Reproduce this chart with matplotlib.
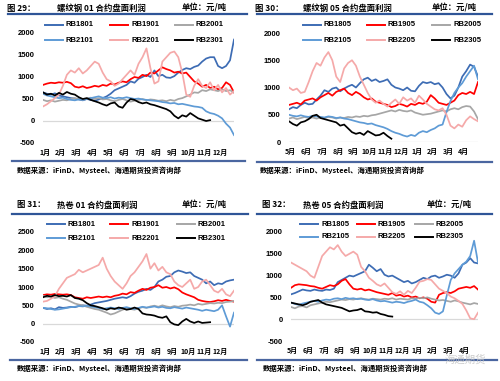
import numpy as np
import matplotlib
matplotlib.use('Agg')
from matplotlib import pyplot as plt
from matplotlib.lines import Line2D

plt.rcParams['font.family'] = ['Noto Sans CJK SC', 'DejaVu Sans']

W, H = 500, 381
step = 0.25  # roughly weekly samples, x is months since start of the chart

months_jan = ['1月', '2月', '3月', '4月', '5月', '6月', '7月', '8月', '9月', '10月', '11月', '12月']
months_may = ['5月', '6月', '7月', '8月', '9月', '10月', '11月', '12月', '1月', '2月', '3月', '4月']

names_01 = ['RB1801', 'RB1901', 'RB2001', 'RB2101', 'RB2201', 'RB2301']
names_05 = ['RB1805', 'RB1905', 'RB2005', 'RB2105', 'RB2205', 'RB2305']
colors = ['#3D6CB4', '#FF0000', '#A6A6A6', '#5E9BD6', '#F5A9A9', '#000000']

# fig 29: rebar 01 contract
f29_rb1801 = [650, 620, 600, 630, 580, 560, 540, 520, 510, 490, 470, 500, 480, 460, 490, 520, 560,
              620, 700, 740, 780, 820, 900, 870, 960, 1000, 1050, 1000, 1150, 1020, 1050, 990, 980,
              1020, 1100, 1160, 1200, 1180, 1230, 1260, 1350, 1420, 1450, 1450, 1250, 1200, 1250,
              1380, 1850]
f29_rb1901 = [820, 850, 870, 860, 880, 870, 890, 860, 780, 760, 790, 750, 770, 800, 780, 820, 800,
              850, 830, 870, 900, 880, 950, 1000, 980, 1050, 1020, 1100, 1080, 1150, 1220, 1180,
              1150, 1100, 1120, 1080, 1100, 1000, 900, 850, 780, 820, 750, 780, 720, 750, 880, 820,
              650]
f29_rb2001 = [480, 450, 470, 440, 460, 480, 470, 500, 520, 500, 480, 510, 530, 500, 520, 490, 500,
              470, 450, 480, 500, 470, 440, 460, 480, 500, 470, 490, 480, 460, 470, 450, 480, 460,
              500, 520, 560, 600, 650, 640, 700, 680, 720, 700, 680, 720, 680, 700, 650]
f29_rb2101 = [620, 580, 560, 540, 520, 530, 500, 480, 470, 490, 480, 500, 520, 540, 560, 530, 520,
              540, 510, 530, 520, 540, 520, 500, 510, 490, 480, 470, 460, 450, 430, 420, 400, 410,
              380, 390, 370, 350, 330, 320, 300, 220, 180, 160, 120, 60, -60, -150, -320]
f29_rb2201 = [330, 380, 450, 520, 600, 800, 1050, 1150, 1100, 1200, 1080, 1150, 1250, 1350, 1300,
              1100, 950, 900, 800, 850, 950, 1050, 1150, 1050, 1300, 1450, 1650, 1200, 850, 900,
              1350, 1450, 1550, 1580, 1450, 1100, 600, 550, 800, 950, 800, 750, 880, 700, 820, 650,
              750, 600, 680]
f29_rb2301 = [650, 600, 620, 580, 640, 600, 660, 620, 600, 540, 500, 520, 480, 450, 420, 380, 350,
              400, 420, 330, 300, 420, 500, 480, 430, 400, 420, 380, 360, 330, 300, 270, 220, 120,
              60, 130, 100, 180, 120, 60, 30, 0, 20]

# fig 30: rebar 05 contract
f30_rb1805 = [600, 640, 620, 680, 720, 690, 700, 780, 850, 950, 920, 980, 1000, 930, 980, 1020, 1050,
              1000, 1080, 1150, 1180, 1120, 1150, 1100, 1120, 1150, 1050, 1000, 980, 950, 1000, 940,
              930, 1030, 1100, 1080, 1100, 1060, 1080, 1000, 880, 800, 850, 1000, 1200, 1300, 1420,
              1380, 1200]
f30_rb1905 = [680, 700, 720, 690, 760, 780, 800, 760, 820, 860, 900, 850, 920, 950, 980, 900, 860,
              920, 880, 820, 780, 800, 740, 720, 700, 680, 640, 660, 700, 680, 650, 700, 680, 720,
              700, 740, 860, 800, 720, 700, 680, 720, 760, 860, 900, 880, 920, 880, 1100]
f30_rb2005 = [430, 450, 420, 440, 460, 440, 450, 430, 450, 440, 460, 450, 430, 450, 440, 460, 450,
              470, 460, 480, 470, 490, 500, 520, 540, 560, 580, 560, 590, 570, 560, 580, 540, 520,
              500, 510, 520, 540, 560, 580, 560, 600, 620, 600, 640, 660, 650, 560, 420]
f30_rb2105 = [500, 480, 470, 490, 470, 460, 480, 470, 460, 450, 470, 460, 440, 450, 430, 420, 400,
              380, 360, 350, 330, 340, 310, 290, 270, 240, 200, 170, 150, 120, 100, 130, 110, 170,
              200, 180, 220, 250, 300, 320, 550, 750, 900, 1000, 1080, 1200, 1300, 1400, 1150]
f30_rb2205 = [1000, 950, 980, 900, 920, 1100, 1300, 1450, 1400, 1550, 1650, 1500, 1200, 1100, 1350,
              1450, 1500, 1400, 1200, 1050, 900, 780, 720, 760, 700, 650, 720, 780, 700, 820, 760,
              800, 720, 850, 780, 700, 650, 600, 580, 620, 500, 300, 250, 320, 280, 400, 470, 420,
              380]
f30_rb2305 = [380, 330, 300, 360, 380, 420, 480, 500, 440, 420, 400, 380, 360, 300, 320, 250, 180,
              150, 170, 130, 200, 160, 120, 130, 170, 110, 60]

# fig 31: hot rolled coil 01 contract
f31_rb1801 = [430, 400, 420, 390, 450, 430, 440, 460, 450, 480, 500, 490, 520, 560, 580, 600, 620,
              650, 680, 700, 720, 700, 750, 820, 870, 900, 950, 920, 1000, 1150, 1200, 1280, 1300,
              1400, 1450, 1420, 1380, 1400, 1300, 1250, 1200, 1100, 1150, 1050, 1100, 1080, 1150,
              1180, 1200]
f31_rb1901 = [780, 800, 790, 810, 800, 790, 800, 780, 720, 700, 680, 720, 700, 720, 740, 720, 740,
              720, 760, 780, 820, 800, 860, 840, 900, 950, 920, 980, 1000, 1050, 980, 1000, 960,
              990, 940, 850, 800, 760, 720, 650, 620, 600, 590, 610, 640, 620, 650, 620, 600]
f31_rb2001 = [760, 720, 740, 700, 720, 680, 650, 600, 550, 520, 500, 460, 430, 400, 380, 340, 300,
              250, 280, 330, 380, 420, 400, 380, 420, 450, 430, 470, 490, 460, 500, 470, 450, 480,
              460, 490, 500, 520, 500, 540, 520, 540, 560, 550, 570, 560, 590, 600, 620]
f31_rb2101 = [430, 420, 400, 380, 390, 410, 430, 450, 460, 480, 470, 490, 470, 450, 430, 400, 420,
              440, 420, 400, 430, 450, 420, 400, 430, 460, 440, 450, 470, 440, 460, 430, 420, 450,
              430, 410, 440, 420, 400, 380, 350, 380, 360, 340, 380, 500, 200, -80, 300]
f31_rb2201 = [600, 620, 680, 750, 950, 1100, 1250, 1300, 1350, 1470, 1400, 1450, 1500, 1550, 1600,
              1800, 1500, 1300, 1150, 1050, 950, 1100, 1300, 1400, 1550, 1700, 1900, 1500, 1650,
              1450, 1550, 1400, 1350, 1150, 1050, 1000, 1100, 1200, 950, 1000, 1150, 1200, 1050,
              900, 850, 950, 800, 750, 900]
f31_rb2301 = [720, 760, 740, 780, 750, 760, 740, 780, 700, 680, 640, 560, 500, 480, 450, 420, 380,
              420, 400, 440, 420, 380, 400, 440, 400, 280, 250, 240, 220, 180, 160, 200, 40, -20,
              -40, 60, 130, 60, 20, 60, 20, 30, 40]

# fig 32: hot rolled coil 05 contract
f32_rb1805 = [570, 600, 640, 680, 660, 650, 680, 660, 650, 680, 670, 700, 850, 900, 950, 1000, 980,
              1020, 1060, 1100, 1250, 1180, 1100, 1150, 1020, 980, 1000, 950, 900, 850, 880, 820,
              850, 900, 950, 920, 980, 1000, 950, 980, 1020, 1000, 950, 1050, 1250, 1300, 1400,
              1300, 1280]
f32_rb1905 = [720, 780, 800, 790, 780, 760, 750, 720, 700, 740, 780, 760, 800, 880, 920, 800, 700,
              680, 700, 660, 680, 650, 620, 600, 580, 560, 600, 540, 560, 520, 540, 500, 520, 480,
              500, 470, 400, 380, 560, 600, 620, 600, 640, 700, 720, 740, 720, 760, 680]
f32_rb2005 = [280, 250, 290, 300, 270, 320, 340, 360, 380, 400, 390, 410, 430, 450, 440, 460, 450,
              470, 480, 460, 450, 470, 460, 450, 470, 460, 480, 450, 470, 460, 450, 480, 470, 490,
              480, 500, 470, 450, 430, 440, 420, 400, 430, 410, 380, 360, 340, 370, 350]
f32_rb2105 = [380, 350, 330, 360, 380, 400, 420, 400, 430, 450, 440, 470, 480, 460, 490, 470, 480,
              460, 470, 450, 440, 460, 430, 410, 420, 400, 380, 400, 390, 370, 400, 420, 450, 400,
              380, 320, 250, 150, 120, 180, 550, 900, 1050, 1150, 1250, 1320, 1450, 1800, 1300]
f32_rb2205 = [1300, 1250, 1200, 1150, 1100, 1000, 950, 1200, 1450, 1550, 1650, 1600, 1700, 1550,
              1450, 1500, 1550, 1480, 1200, 1100, 950, 880, 800, 760, 820, 720, 620, 580, 640, 560,
              650, 600, 720, 860, 880, 920, 900, 800, 700, 650, 600, 520, 480, 420, 350, 200, 20, 0,
              150]
f32_rb2305 = [380, 360, 340, 320, 350, 400, 420, 440, 380, 340, 320, 300, 280, 260, 220, 180, 200,
              210, 240, 180, 170, 150, 160, 120, 100, 70, 60]

source = '数据来源：iFinD、Mysteel、海通期货投资咨询部'
num_font = ['Liberation Sans', 'DejaVu Sans']


def hline(fig, x0, x1, y, color, lw):
    fig.add_artist(Line2D([x0 / W, x1 / W], [1 - y / H, 1 - y / H], color=color, lw=lw))


def ftext(fig, x, y, s, **kw):
    fig.text(x / W, 1 - y / H, s, ha='left', va='center', **kw)


def panel(fig, box, ylim, yticks, xlabels, names, data, head, legend_x, legend_y, src_xy,
          top_line, bottom_line):
    x0, y0, x1, y1 = box
    ax = fig.add_axes([x0 / W, 1 - y1 / H, (x1 - x0) / W, (y1 - y0) / H])
    ax.axhline(0, color='#D9D9D9', lw=0.9, zorder=1)
    for vals, c in zip(data, colors):
        x = np.arange(len(vals)) * step
        ax.plot(x, vals, color=c, lw=1.25, zorder=2, solid_joinstyle='round')
    ax.set_xlim(0, 12)
    ax.set_ylim(*ylim)
    ax.set_yticks(yticks)
    ax.set_yticklabels([str(t) for t in yticks], family=num_font, fontsize=5.5,
                       fontweight='bold')
    ax.set_xticks(np.arange(12) + 0.1)
    ax.set_xticklabels(xlabels, fontsize=5, fontweight='bold')
    ax.tick_params(length=0)
    ax.tick_params(axis='y', pad=6)
    ax.tick_params(axis='x', pad=4)
    for s in ax.spines.values():
        s.set_visible(False)
    ax.patch.set_alpha(0)

    # header
    for x, s in head:
        ftext(fig, x, 8 + top_line[3] - 14, s, fontsize=6, fontweight='bold')
    hline(fig, top_line[0], top_line[1], top_line[2], '#2F5597', 1.6)
    hline(fig, bottom_line[0], bottom_line[1], bottom_line[2], '#4A66A0', 1.6)
    ftext(fig, src_xy[0], src_xy[1], source, fontsize=5.3, fontweight='bold')

    # legend
    for i, (name, c) in enumerate(zip(names, colors)):
        lx = legend_x[i % 3]
        ly = legend_y[i // 3]
        hline(fig, lx, lx + 18, ly, c, 1.4)
        ftext(fig, lx + 21, ly, name, family=num_font, fontsize=5.5, fontweight='bold')
    return ax


fig = plt.figure(figsize=(5.0, 3.81), dpi=100)

panel(fig, (43, 33, 234, 143), (-500, 2000), [-500, 0, 500, 1000, 1500, 2000], months_jan,
      names_01, [f29_rb1801, f29_rb1901, f29_rb2001, f29_rb2101, f29_rb2201, f29_rb2301],
      [(7, '图 29：'), (57, '螺纹钢 01 合约盘面利润'), (182, '单位：元/吨')],
      [45, 110, 175], [25, 40], (17, 170), (8, 247, 14, 14), (12, 245, 161))

panel(fig, (289, 33, 478, 142), (0, 2000), [0, 500, 1000, 1500, 2000], months_may,
      names_05, [f30_rb1805, f30_rb1905, f30_rb2005, f30_rb2105, f30_rb2205, f30_rb2305],
      [(255, '图 30：'), (303, '螺纹钢 05 合约盘面利润'), (432, '单位：元/吨')],
      [303, 367, 432], [25, 40], (260, 170), (257, 492, 14, 14), (257, 492, 162))

panel(fig, (43, 232, 234, 342), (-500, 2500), [-500, 0, 500, 1000, 1500, 2000, 2500], months_jan,
      names_01, [f31_rb1801, f31_rb1901, f31_rb2001, f31_rb2101, f31_rb2201, f31_rb2301],
      [(17, '图 31：'), (57, '热卷 01 合约盘面利润'), (182, '单位：元/吨')],
      [47, 110, 177], [224, 238], (17, 368), (12, 248, 214, 211), (10, 247, 360))

panel(fig, (291, 232, 478, 341), (-500, 2000), [-500, 0, 500, 1000, 1500, 2000], months_may,
      names_05, [f32_rb1805, f32_rb1905, f32_rb2005, f32_rb2105, f32_rb2205, f32_rb2305],
      [(262, '图 32：'), (303, '热卷 05 合约盘面利润'), (427, '单位：元/吨')],
      [300, 357, 415], [224, 237], (263, 368), (257, 492, 214, 211), (257, 497, 360))

# watermark
ftext(fig, 445, 360, '海通期货', fontsize=7.5, color='#BFBFBF', alpha=0.8)

fig.savefig('out.png', dpi=100)
